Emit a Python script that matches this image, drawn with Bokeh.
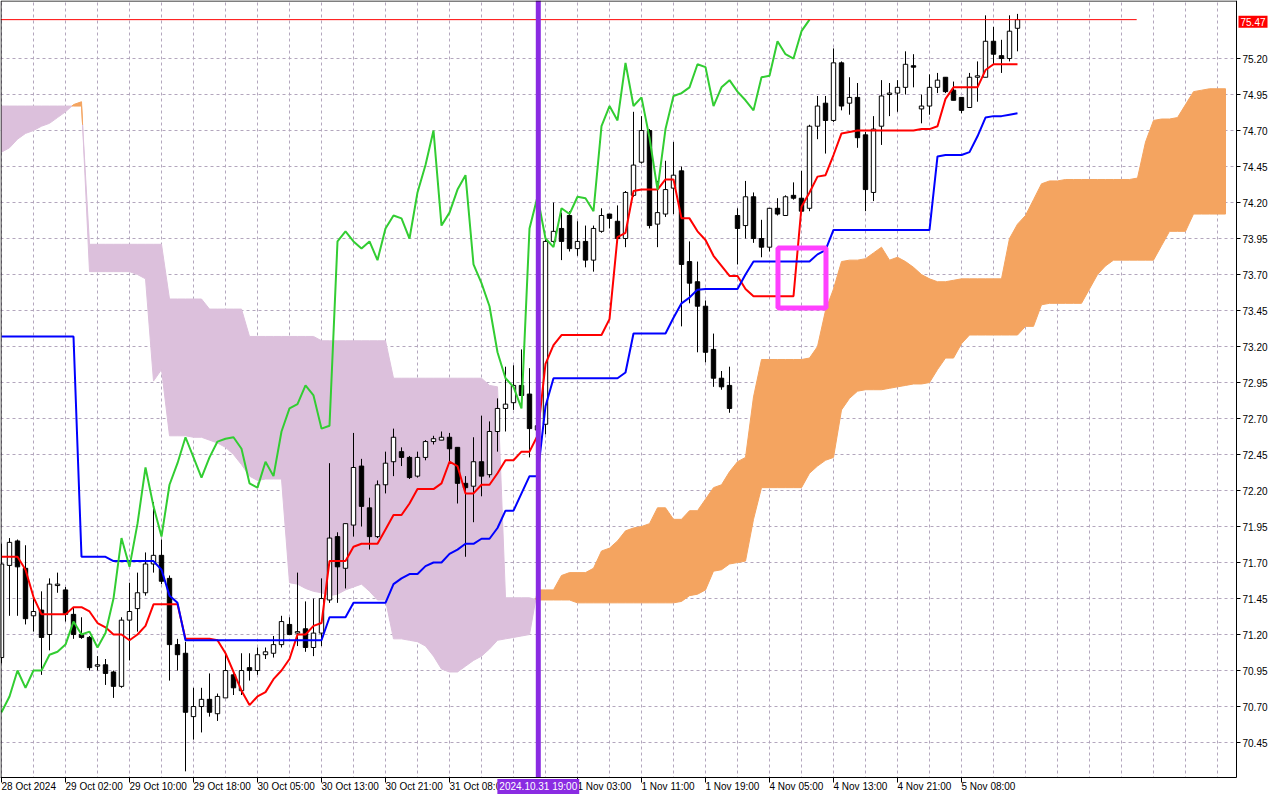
import numpy as np
from bokeh.plotting import figure
from bokeh.models import Range1d, FixedTicker, PrintfTickFormatter, Label
from bokeh.embed import file_html
from bokeh.resources import INLINE

# ---------------- data (H1 candles, bar index 0..127) ----------------
open_ = [71.04, 71.68, 71.85, 71.66, 71.33, 71.37, 71.20, 71.54, 71.51, 71.34,
         71.20, 71.18, 70.98, 70.99, 70.94, 70.84, 71.30, 71.38, 71.49, 71.69,
         71.75, 71.59, 71.13, 71.07, 70.63, 70.70, 70.75, 70.65, 70.76, 70.92,
         70.81, 70.97, 70.95, 71.06, 71.07, 71.13, 71.27, 71.21, 71.24, 71.11,
         71.21, 71.44, 71.88, 71.66, 71.96, 72.37, 72.08, 71.88, 72.24, 72.40,
         72.47, 72.43, 72.30, 72.43, 72.54, 72.55, 72.57, 72.50, 72.25, 72.23,
         72.40, 72.31, 72.61, 72.77, 72.81, 72.93, 72.87, 72.62, 72.66, 73.93,
         74.02, 74.11, 73.88, 73.93, 73.80, 74.00, 74.12, 74.07, 73.95, 74.25,
         74.48, 74.70, 74.05, 74.12, 74.30, 74.42, 73.79, 73.65, 73.48, 73.18,
         72.98, 72.93, 74.11, 74.04, 74.24, 73.95, 73.89, 74.16, 74.11, 74.25,
         74.23, 74.16, 74.73, 74.89, 74.77, 75.17, 74.89, 74.93, 74.67, 74.27,
         74.73, 74.95, 74.96, 75.00, 75.15, 74.85, 74.87, 75.00, 75.07, 74.98,
         74.93, 74.86, 75.07, 75.07, 75.32, 75.22, 75.20, 75.41]
high = [71.83, 71.87, 71.86, 71.82, 71.45, 71.50, 71.59, 71.63, 71.53, 71.39,
        71.32, 71.19, 71.05, 71.03, 70.95, 71.32, 71.56, 71.63, 71.77, 72.12,
        71.86, 71.61, 71.17, 71.15, 70.83, 70.83, 70.93, 70.79, 71.07, 70.95,
        71.07, 71.07, 71.11, 71.11, 71.19, 71.33, 71.32, 71.63, 71.43, 71.45,
        71.59, 72.39, 71.91, 71.97, 72.60, 72.42, 72.15, 72.27, 72.47, 72.63,
        72.50, 72.44, 72.47, 72.55, 72.58, 72.61, 72.60, 72.50, 72.30, 72.57,
        72.72, 72.68, 72.84, 73.06, 73.07, 73.18, 73.05, 72.78, 73.96, 74.20,
        74.13, 74.14, 74.07, 74.04, 74.04, 74.16, 74.12, 74.18, 74.28, 74.83,
        74.80, 74.71, 74.35, 74.49, 74.62, 74.45, 73.93, 73.79, 73.52, 73.29,
        73.03, 73.06, 74.16, 74.35, 74.27, 74.08, 74.16, 74.23, 74.25, 74.34,
        74.42, 74.74, 74.94, 74.94, 75.27, 75.18, 75.07, 75.03, 74.69, 74.80,
        75.05, 75.03, 75.05, 75.25, 75.23, 74.95, 75.09, 75.10, 75.07, 75.04,
        74.93, 75.10, 75.18, 75.50, 75.42, 75.33, 75.50, 75.51]
low = [71.00, 71.33, 71.33, 71.27, 71.22, 70.92, 71.09, 71.49, 71.29, 71.17,
       71.17, 70.95, 70.95, 70.85, 70.76, 70.83, 71.02, 71.22, 71.47, 71.63,
       71.55, 70.88, 70.95, 70.25, 70.47, 70.52, 70.63, 70.60, 70.76, 70.78,
       70.78, 70.88, 70.92, 71.03, 71.04, 71.11, 71.20, 71.12, 71.08, 71.05,
       71.12, 71.42, 71.42, 71.52, 71.88, 71.95, 71.79, 71.87, 72.18, 72.30,
       72.37, 72.28, 72.29, 72.41, 72.52, 72.55, 72.40, 72.11, 71.74, 71.98,
       72.16, 72.29, 72.47, 72.61, 72.76, 72.83, 72.43, 72.45, 72.59, 73.92,
       73.80, 73.86, 73.83, 73.75, 73.72, 73.99, 74.02, 73.94, 73.89, 74.24,
       74.47, 74.02, 73.89, 74.10, 74.12, 73.34, 73.50, 73.16, 73.09, 72.92,
       72.90, 72.74, 73.77, 73.95, 73.92, 73.82, 73.86, 74.11, 74.11, 74.22,
       74.13, 74.14, 74.64, 74.54, 74.76, 74.84, 74.81, 74.58, 74.14, 74.21,
       74.60, 74.80, 74.83, 74.95, 75.00, 74.75, 74.81, 74.96, 74.96, 74.91,
       74.82, 74.86, 74.90, 75.07, 75.16, 75.10, 75.18, 75.25]
close = [71.69, 71.84, 71.67, 71.31, 71.36, 71.18, 71.55, 71.55, 71.34, 71.20,
         71.18, 70.97, 70.99, 70.93, 70.84, 71.30, 71.36, 71.49, 71.69, 71.75,
         71.57, 71.13, 71.06, 70.66, 70.70, 70.75, 70.66, 70.77, 70.95, 70.83,
         70.95, 70.95, 71.06, 71.08, 71.13, 71.29, 71.20, 71.22, 71.11, 71.21,
         71.45, 71.87, 71.67, 71.97, 72.36, 72.09, 71.88, 72.24, 72.39, 72.57,
         72.43, 72.29, 72.43, 72.54, 72.56, 72.57, 72.49, 72.25, 72.22, 72.40,
         72.30, 72.61, 72.77, 72.80, 72.93, 72.86, 72.63, 72.65, 73.93, 74.00,
         73.93, 73.88, 73.93, 73.80, 74.02, 74.11, 74.09, 73.95, 74.27, 74.46,
         74.70, 74.04, 74.13, 74.29, 74.39, 73.77, 73.64, 73.48, 73.16, 72.98,
         72.92, 72.77, 74.02, 74.24, 73.95, 73.89, 74.16, 74.12, 74.24, 74.23,
         74.14, 74.73, 74.87, 74.77, 75.17, 74.87, 74.93, 74.65, 74.29, 74.71,
         74.94, 74.96, 75.00, 75.16, 75.14, 74.87, 75.00, 75.05, 74.97, 74.91,
         74.84, 75.07, 75.08, 75.32, 75.23, 75.20, 75.39, 75.47]

# Tenkan-sen (red) per bar 0..127
tenkan = [71.74, 71.74, 71.74, 71.65, 71.46, 71.34, 71.34, 71.34, 71.34, 71.39,
          71.39, 71.36, 71.28, 71.25, 71.20, 71.20, 71.16, 71.20, 71.26, 71.41,
          71.41, 71.41, 71.41, 71.17, 71.17, 71.17, 71.17, 71.16, 71.07, 70.94,
          70.81, 70.71, 70.77, 70.80, 70.89, 70.95, 71.03, 71.20, 71.20, 71.26,
          71.28, 71.71, 71.71, 71.71, 71.81, 71.83, 71.83, 71.83, 71.93, 72.03,
          72.03, 72.11, 72.21, 72.21, 72.21, 72.25, 72.40, 72.37, 72.18, 72.18,
          72.24, 72.24, 72.32, 72.41, 72.41, 72.47, 72.47, 72.58, 73.08, 73.21,
          73.28, 73.28, 73.28, 73.28, 73.28, 73.28, 73.39, 73.96, 73.99, 74.28,
          74.29, 74.29, 74.29, 74.36, 74.36, 74.09, 74.09, 74.00, 73.94, 73.83,
          73.76, 73.69, 73.69, 73.60, 73.55, 73.55, 73.55, 73.55, 73.55, 73.55,
          74.17, 74.27, 74.38, 74.39, 74.53, 74.68, 74.69, 74.70, 74.70, 74.70,
          74.70, 74.70, 74.70, 74.70, 74.70, 74.71, 74.71, 74.73, 74.92, 75.00,
          75.00, 75.00, 75.00, 75.12, 75.16, 75.16, 75.16, 75.16]

# Kijun-sen (blue) per bar 0..127
kijun = [73.27, 73.27, 73.27, 73.27, 73.27, 73.27, 73.27, 73.27, 73.27, 73.27,
         71.74, 71.74, 71.74, 71.74, 71.71, 71.71, 71.71, 71.71, 71.71, 71.71,
         71.65, 71.47, 71.42, 71.16, 71.16, 71.16, 71.16, 71.16, 71.16, 71.16,
         71.16, 71.16, 71.16, 71.16, 71.16, 71.16, 71.16, 71.16, 71.16, 71.16,
         71.16, 71.32, 71.32, 71.32, 71.42, 71.42, 71.42, 71.42, 71.42, 71.55,
         71.59, 71.62, 71.62, 71.675, 71.70, 71.70, 71.76, 71.79, 71.83, 71.83,
         71.865, 71.865, 71.94, 72.06, 72.06, 72.18, 72.30, 72.30, 72.785, 72.98,
         72.98, 72.98, 72.98, 72.98, 72.98, 72.98, 72.98, 72.98, 73.02, 73.29,
         73.29, 73.29, 73.29, 73.29, 73.40, 73.50, 73.54, 73.595, 73.60, 73.60,
         73.60, 73.60, 73.60, 73.70, 73.79, 73.79, 73.79, 73.79, 73.79, 73.79,
         73.79, 73.79, 73.84, 73.87, 74.01, 74.01, 74.01, 74.01, 74.01, 74.01,
         74.01, 74.01, 74.01, 74.01, 74.01, 74.01, 74.01, 74.52, 74.53, 74.53,
         74.53, 74.55, 74.66, 74.79, 74.80, 74.80, 74.81, 74.82]

# Chikou span (green) drawn at bars 0..101
chikou = [70.66, 70.77, 70.95, 70.83, 70.95, 70.95, 71.06, 71.08, 71.13, 71.29,
          71.20, 71.22, 71.11, 71.21, 71.45, 71.87, 71.67, 71.97, 72.36, 72.09,
          71.88, 72.24, 72.39, 72.57, 72.43, 72.29, 72.43, 72.54, 72.56, 72.57,
          72.49, 72.25, 72.22, 72.40, 72.30, 72.61, 72.77, 72.80, 72.93, 72.86,
          72.63, 72.65, 73.93, 74.00, 73.93, 73.88, 73.93, 73.80, 74.02, 74.11,
          74.09, 73.95, 74.27, 74.46, 74.70, 74.04, 74.13, 74.29, 74.39, 73.77,
          73.64, 73.48, 73.16, 72.98, 72.92, 72.77, 74.02, 74.24, 73.95, 73.89,
          74.16, 74.12, 74.24, 74.23, 74.14, 74.73, 74.87, 74.77, 75.17, 74.87,
          74.93, 74.65, 74.29, 74.71, 74.94, 74.96, 75.00, 75.16, 75.14, 74.87,
          75.00, 75.05, 74.97, 74.91, 74.84, 75.07, 75.08, 75.32, 75.23, 75.20,
          75.39, 75.47]

# Senkou span A / B (already shifted 26 bars forward), bars 0..153
span_a = [74.55, 74.58, 74.64, 74.68, 74.70, 74.73, 74.75, 74.79, 74.83, 74.88,
          74.90, 73.72, 73.72, 73.72, 73.72, 73.72, 73.72, 73.70, 73.67, 72.96,
          73.04, 72.58, 72.58, 72.58, 72.57, 72.57, 72.55, 72.53, 72.50, 72.45,
          72.38, 72.30, 72.27, 72.28, 72.28, 72.28, 71.56, 71.55, 71.52, 71.50,
          71.49, 71.47, 71.48, 71.51, 71.53, 71.55, 71.50, 71.44, 71.44, 71.17,
          71.17, 71.16, 71.15, 71.12, 71.05, 70.96, 70.94, 70.94, 70.98, 71.02,
          71.05, 71.10, 71.16, 71.17, 71.18, 71.19, 71.20, 71.51, 71.51, 71.51,
          71.61, 71.63, 71.63, 71.63, 71.66, 71.78, 71.80, 71.85, 71.92, 71.94,
          71.95, 71.97, 72.08, 72.08, 72.00, 72.00, 72.06, 72.06, 72.14, 72.22,
          72.24, 72.33, 72.40, 72.43, 72.85, 73.11, 73.11, 73.11, 73.11, 73.11,
          73.11, 73.12, 73.20, 73.45, 73.60, 73.79, 73.80, 73.80, 73.81, 73.85,
          73.89, 73.80, 73.82, 73.79, 73.75, 73.70, 73.67, 73.65, 73.65, 73.66,
          73.67, 73.67, 73.67, 73.67, 73.67, 73.67, 73.95, 74.05, 74.11, 74.22,
          74.33, 74.35, 74.35, 74.36, 74.36, 74.36, 74.36, 74.36, 74.36, 74.36,
          74.36, 74.36, 74.37, 74.62, 74.77, 74.78, 74.78, 74.79, 74.88, 74.97,
          74.98, 74.99, 74.99, 74.99]
span_b = [74.87, 74.87, 74.87, 74.87, 74.87, 74.87, 74.87, 74.87, 74.87, 74.87,
          74.87, 73.91, 73.91, 73.91, 73.91, 73.91, 73.91, 73.91, 73.91, 73.91,
          73.91, 73.53, 73.53, 73.53, 73.53, 73.53, 73.46, 73.46, 73.46, 73.46,
          73.46, 73.27, 73.27, 73.27, 73.27, 73.27, 73.27, 73.27, 73.27, 73.27,
          73.24, 73.24, 73.24, 73.24, 73.24, 73.24, 73.24, 73.24, 73.24, 72.98,
          72.98, 72.98, 72.98, 72.98, 72.98, 72.98, 72.98, 72.98, 72.98, 72.98,
          72.98, 72.93, 72.92, 71.455, 71.455, 71.455, 71.455, 71.44, 71.44, 71.44,
          71.44, 71.44, 71.42, 71.42, 71.42, 71.42, 71.42, 71.42, 71.42, 71.42,
          71.42, 71.42, 71.42, 71.42, 71.42, 71.43, 71.47, 71.48, 71.51, 71.64,
          71.65, 71.69, 71.70, 71.71, 72.00, 72.22, 72.22, 72.22, 72.22, 72.22,
          72.22, 72.32, 72.37, 72.41, 72.43, 72.76, 72.84, 72.89, 72.90, 72.90,
          72.90, 72.91, 72.92, 72.93, 72.94, 72.94, 72.95, 73.04, 73.12, 73.12,
          73.22, 73.28, 73.28, 73.28, 73.28, 73.28, 73.28, 73.28, 73.34, 73.34,
          73.49, 73.50, 73.50, 73.50, 73.50, 73.50, 73.60, 73.70, 73.76, 73.80,
          73.80, 73.80, 73.80, 73.80, 73.80, 73.90, 74.00, 74.00, 74.00, 74.12,
          74.12, 74.12, 74.12, 74.12]

# axis labels
x_tick_bars = [0, 8, 16, 24, 32, 40, 48, 56, 72, 80, 88, 96, 104, 112, 120]
x_tick_labels = ["28 Oct 2024", "29 Oct 02:00", "29 Oct 10:00", "29 Oct 18:00",
                 "30 Oct 05:00", "30 Oct 13:00", "30 Oct 21:00", "31 Oct 08:00",
                 "1 Nov 03:00", "1 Nov 11:00", "1 Nov 19:00", "4 Nov 05:00",
                 "4 Nov 13:00", "4 Nov 21:00", "5 Nov 08:00"]
y_ticks = [70.45, 70.70, 70.95, 71.20, 71.45, 71.70, 71.95, 72.20, 72.45, 72.70,
           72.95, 73.20, 73.45, 73.70, 73.95, 74.20, 74.45, 74.70, 74.95, 75.20]
marker_bar = 67.1
marker_text = "2024.10.31 19:00"
bid_line_end = 141.9
box_bars = [97.06, 103.06]
box_prices = [73.467, 73.884]

# ---------------- geometry (8 px per bar, 144 px per price unit) ----------------
PX_BAR, PX_PRICE = 8.0, 144.0
CW, CH = 1279, 797                     # whole canvas
X0 = -0.125
XE = X0 + 1236 / PX_BAR                # right edge of price area (axis line)
Y1 = 75.603
YE = Y1 - 777 / PX_PRICE               # bottom edge of price area (axis line)
X1 = X0 + CW / PX_BAR
Y0 = Y1 - CH / PX_PRICE

p = figure(frame_width=CW, frame_height=CH,
           x_range=Range1d(X0, X1), y_range=Range1d(Y0, Y1),
           output_backend="svg", toolbar_location=None, y_axis_location="right",
           min_border=0, background_fill_color="white", border_fill_color="white")
p.outline_line_color = None

grid_col = "#b3a6bd"
p.xgrid.ticker = FixedTicker(ticks=list(range(0, 156, 4)))
p.ygrid.ticker = FixedTicker(ticks=y_ticks)
for g in (p.xgrid, p.ygrid):
    g.grid_line_color = grid_col
    g.grid_line_dash = "3 3"
    g.grid_line_width = 1

# cloud polygons
def cloud_polys(a, b):
    pts = []
    for i in range(len(a)):
        if i > 0:
            d0 = a[i - 1] - b[i - 1]
            d1 = a[i] - b[i]
            if d0 * d1 < 0:
                t = d0 / (d0 - d1)
                yc = a[i - 1] + t * (a[i] - a[i - 1])
                pts.append((i - 1 + t, yc, yc, True))
        pts.append((i, a[i], b[i], False))
    runs, cur = [], []
    for pt in pts:
        cur.append(pt)
        if pt[3]:
            runs.append(cur)
            cur = [pt]
    runs.append(cur)
    xs_l, ys_l, cols = [], [], []
    for run in runs:
        xs = [q[0] for q in run]
        ta = [q[1] for q in run]
        tb = [q[2] for q in run]
        s = sum(q[1] - q[2] for q in run)
        xs_l.append(xs + xs[::-1])
        ys_l.append(ta + tb[::-1])
        cols.append("#f4a460" if s > 0 else "#dcc0dc")
    return xs_l, ys_l, cols

cx, cy, cc = cloud_polys(span_a, span_b)
p.patches(cx, cy, fill_color=cc, line_color=cc, line_width=1)

# candles
idx = np.arange(len(close))
o = np.array(open_); c = np.array(close)
up = c >= o
p.segment(x0=idx, y0=low, x1=idx, y1=high, line_color="black", line_width=1)
p.vbar(x=idx[up], width=0.55, bottom=o[up], top=c[up], fill_color="white", line_color="black", line_width=1)
p.vbar(x=idx[~up], width=0.55, bottom=c[~up], top=o[~up], fill_color="black", line_color="black", line_width=1)

# ichimoku lines
p.line(np.arange(len(tenkan)), tenkan, line_color="#ff0000", line_width=2)
p.line(np.arange(len(kijun)), kijun, line_color="#0000ff", line_width=2)
p.line(np.arange(len(chikou)), chikou, line_color="#32cd32", line_width=2)

# bid line
p.line([X0, bid_line_end], [close[-1], close[-1]], line_color="#ff0000", line_width=1)

# vertical marker line (price area only)
p.segment(x0=[marker_bar], y0=[YE], x1=[marker_bar], y1=[Y1], line_color="#8a2be2", line_width=5)

# magenta rectangle
p.quad(left=[box_bars[0]], right=[box_bars[1]], bottom=[box_prices[0]], top=[box_prices[1]],
       fill_alpha=0, line_color="#ff40ff", line_width=5)

# white margins outside the price area (hide grid there)
p.quad(left=[X0, XE], right=[X1, X1], bottom=[Y0, Y0], top=[YE, Y1],
       fill_color="white", line_color=None)
# top & left border of the price area
p.line([X0 + 0.5 / PX_BAR, X0 + 0.5 / PX_BAR, XE], [YE, Y1 - 0.5 / PX_PRICE, Y1 - 0.5 / PX_PRICE],
       line_color="black", line_width=1)

# axes placed on the price-area edges
xa = p.xaxis[0]
xa.fixed_location = YE
xa.bounds = (X0, XE)
xa.ticker = FixedTicker(ticks=x_tick_bars)
xa.major_label_overrides = {b: t for b, t in zip(x_tick_bars, x_tick_labels)}
xa.major_label_orientation = -0.0001
xa.major_label_text_font = "Liberation Sans"
xa.major_label_text_font_size = "10px"
xa.major_label_text_color = "black"
xa.major_label_standoff = 4
xa.major_tick_out = 5
xa.major_tick_in = 0
xa.minor_tick_out = 0
xa.minor_tick_in = 0
xa.axis_line_color = "black"

ya = p.yaxis[0]
ya.fixed_location = XE
ya.bounds = (YE, Y1)
ya.ticker = FixedTicker(ticks=y_ticks)
ya.formatter = PrintfTickFormatter(format="%.2f")
ya.major_label_text_font = "Liberation Sans"
ya.major_label_text_font_size = "10px"
ya.major_label_text_color = "black"
ya.major_label_standoff = 2
ya.major_tick_out = 4
ya.major_tick_in = 0
ya.minor_tick_out = 0
ya.minor_tick_in = 0
ya.axis_line_color = "black"

# highlighted axis labels
common = dict(text_font="Liberation Sans", text_font_size="10px", text_color="white",
              text_baseline="middle", padding=2)
p.add_layout(Label(x=marker_bar, y=YE - 9 / PX_PRICE, text=marker_text, text_align="center",
                   background_fill_color="#8a2be2", **common))
p.add_layout(Label(x=XE + 2 / PX_BAR, y=close[-1] - 2 / PX_PRICE, text=f"{close[-1]:.2f}",
                   text_align="left", background_fill_color="#ff0000", **common))

open("out.html", "w").write(file_html(p, INLINE))
